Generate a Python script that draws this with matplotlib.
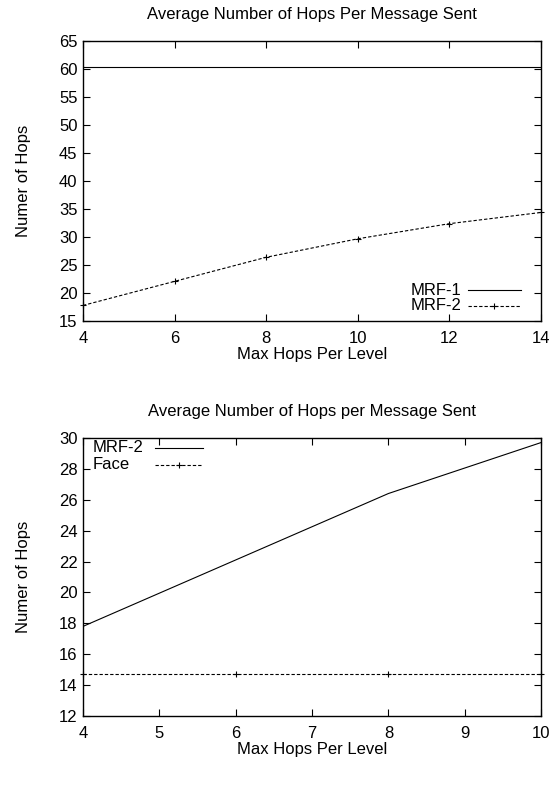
import matplotlib
matplotlib.use("Agg")
import matplotlib.pyplot as plt

plt.rcParams['font.family'] = ['Liberation Sans', 'DejaVu Sans']

# Upper panel: hops per message vs max hops per level
hops_top = [4, 6, 8, 10, 12, 14]
mrf1_top = [60.3, 60.3, 60.3, 60.3, 60.3, 60.3]
mrf2_top = [17.8, 22.1, 26.4, 29.7, 32.4, 34.4]

# Lower panel
hops_bot = [4, 6, 8, 10]
mrf2_bot = [17.8, 22.1, 26.4, 29.7]
face_bot = [14.7, 14.7, 14.7, 14.7]

FS = 12
fig = plt.figure(figsize=(5.55, 7.89), dpi=100)
ax1 = fig.add_axes([0.1495, 0.593, 0.8255, 0.355])
ax2 = fig.add_axes([0.1495, 0.0925, 0.8255, 0.3525])

dash = (0, (3, 1.8))
lw = 0.8


def style(ax):
    for s in ax.spines.values():
        s.set_linewidth(1.0)
    ax.tick_params(direction='in', top=True, right=True, length=5, width=0.8,
                   labelsize=FS)
    ax.tick_params(axis='x', pad=7)
    ax.tick_params(axis='y', pad=4)


def key(ax, entries, x_text, x0, x1, ys):
    """Draw a key with the label first and the line sample after it."""
    for (label, ls, mk), y in zip(entries, ys):
        ax.text(x_text, y, label, transform=ax.transAxes, fontsize=FS,
                ha='left', va='center')
        ax.plot([x0, x1], [y, y], transform=ax.transAxes, color='black',
                lw=lw, linestyle=ls, clip_on=False)
        if mk:
            ax.plot([(x0 + x1) / 2], [y], transform=ax.transAxes,
                    color='black', marker='+', markersize=5,
                    markeredgewidth=0.8, clip_on=False)


ax1.plot(hops_top, mrf1_top, color='black', lw=lw, label='MRF-1')
ax1.plot(hops_top, mrf2_top, color='black', lw=lw, linestyle=dash,
         marker='+', markersize=5, markeredgewidth=0.8, label='MRF-2',
         clip_on=False)
ax1.set_xlim(4, 14)
ax1.set_ylim(15, 65)
ax1.set_xticks([4, 6, 8, 10, 12, 14])
ax1.set_yticks(range(15, 66, 5))
ax1.set_title('Average Number of Hops Per Message Sent', fontsize=FS, pad=16)
ax1.set_xlabel('Max Hops Per Level', fontsize=FS, labelpad=1)
ax1.set_ylabel('Numer of Hops', fontsize=FS, labelpad=20)
style(ax1)
key(ax1, [('MRF-1', '-', False), ('MRF-2', dash, True)],
    0.715, 0.84, 0.955, [0.111, 0.054])

ax2.plot(hops_bot, mrf2_bot, color='black', lw=lw, label='MRF-2')
ax2.plot(hops_bot, face_bot, color='black', lw=lw, linestyle=dash,
         marker='+', markersize=5, markeredgewidth=0.8, label='Face',
         clip_on=False)
ax2.set_xlim(4, 10)
ax2.set_ylim(12, 30)
ax2.set_xticks(range(4, 11))
ax2.set_yticks(range(12, 31, 2))
ax2.set_title('Average Number of Hops per Message Sent', fontsize=FS, pad=16)
ax2.set_xlabel('Max Hops Per Level', fontsize=FS, labelpad=1)
ax2.set_ylabel('Numer of Hops', fontsize=FS, labelpad=20)
style(ax2)
key(ax2, [('MRF-2', '-', False), ('Face', dash, True)],
    0.022, 0.157, 0.262, [0.964, 0.903])

fig.savefig('out.png', dpi=100)
